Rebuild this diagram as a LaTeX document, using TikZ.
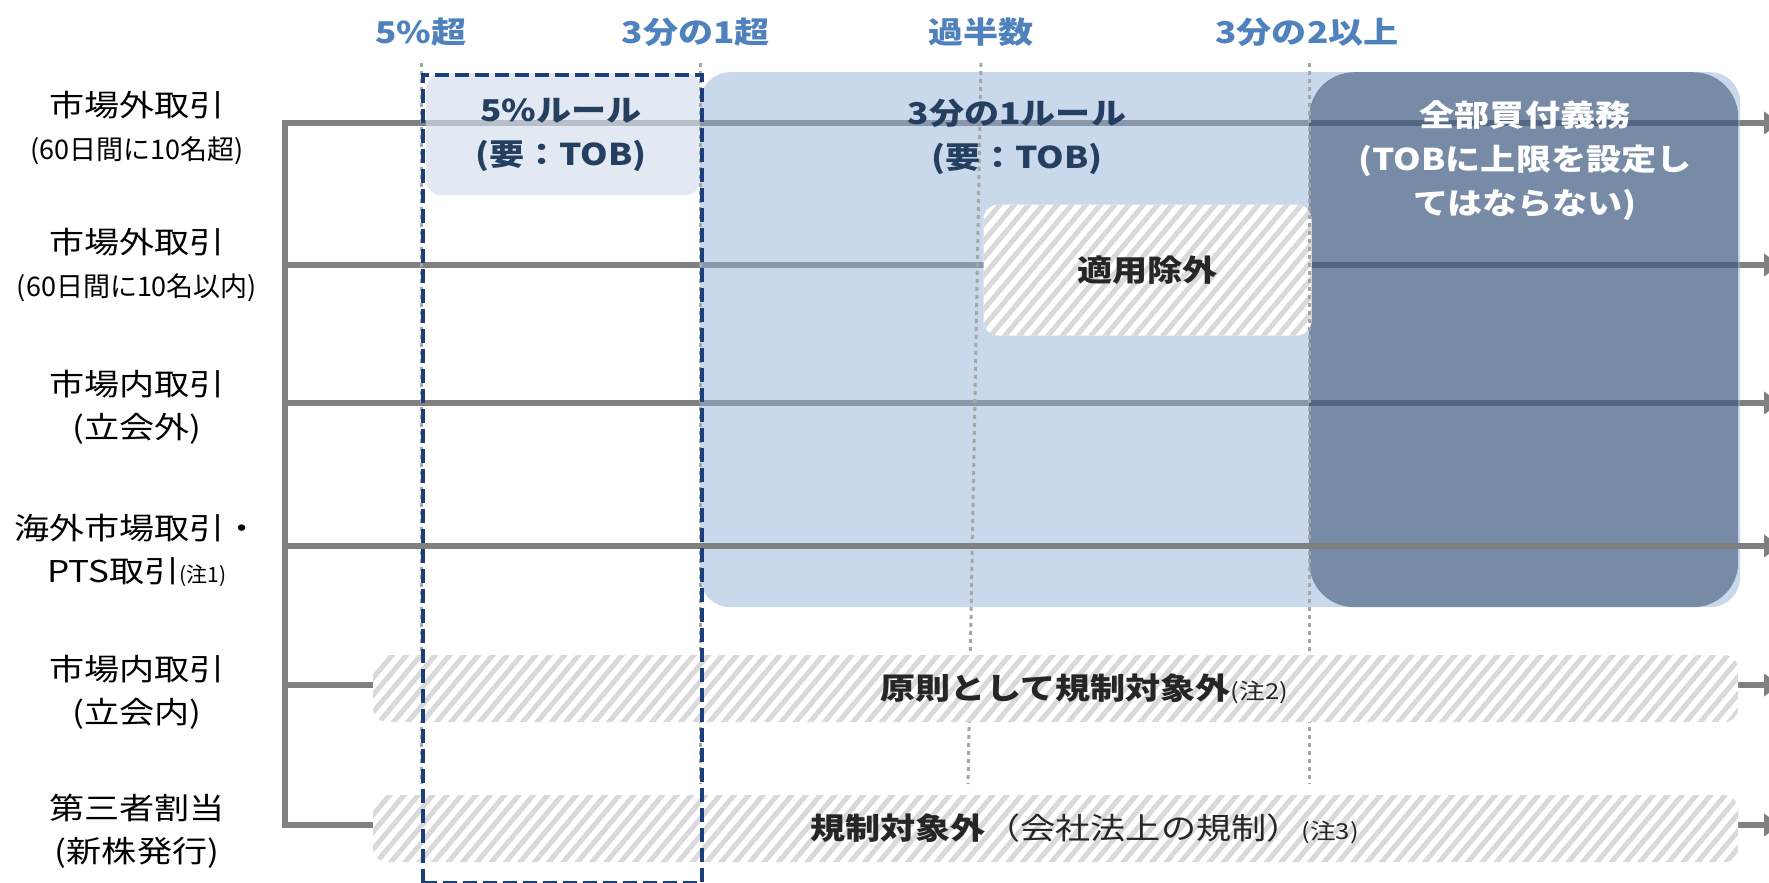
\documentclass[tikz,border=0pt]{standalone}
\usepackage{fontspec}
\setmainfont{Noto Sans CJK JP}
\newfontfamily\jp[FakeStretch=1.17]{Noto Sans CJK JP}
\newfontfamily\jpn{Noto Sans CJK JP}
\usetikzlibrary{arrows.meta,patterns.meta}
\definecolor{hdrblue}{HTML}{4F81BD}
\definecolor{navytxt}{HTML}{243F60}
\definecolor{lineg}{HTML}{808080}
\definecolor{dotg}{HTML}{A6A6A6}
\definecolor{dashblue}{HTML}{1C3F7C}
\definecolor{lightfill}{HTML}{93B1D7}
\definecolor{palefill}{HTML}{D4DEED}
\definecolor{darkfill}{HTML}{132D54}
\definecolor{hatchg}{HTML}{D9D9D9}
\definecolor{txtdark}{HTML}{262626}
\begin{document}
\begin{tikzpicture}[x=1pt,y=-1pt,
  rowline/.style={draw=lineg,line width=5.5pt,-{Triangle[length=16pt,width=22pt]}},
  bracket/.style={draw=lineg,line width=5.5pt,line cap=rect},
  area/.style={rectangle,inner sep=0pt,anchor=north west},
  hatch/.style={area,preaction={fill=white},pattern={Lines[angle=50,distance=11pt,line width=5pt]},pattern color=hatchg},
  guide/.style={draw=dotg,line width=3pt,dash pattern=on 4pt off 4pt},
  hdr/.style={font=\jp\bfseries\fontsize{30}{34}\selectfont,text=hdrblue},
  lab/.style={align=center,font=\jp\fontsize{30}{43}\selectfont,text=black},
  boxtxt/.style={align=center,font=\jp\bfseries\fontsize{30}{44}\selectfont},
  bartxt/.style={font=\jp\fontsize{30}{34}\selectfont,text=txtdark},
]
\useasboundingbox (0,0) rectangle (1769,883);

% row anchors
\coordinate (r1) at (285,123);
\coordinate (r2) at (285,265);
\coordinate (r3) at (285,403);
\coordinate (r4) at (285,546);
\coordinate (r5) at (285,685);
\coordinate (r6) at (285,825);
\coordinate (e1) at (1780,123);
\coordinate (e2) at (1780,265);
\coordinate (e3) at (1780,403);
\coordinate (e4) at (1780,546);
\coordinate (e5) at (1780,685);
\coordinate (e6) at (1780,825);

\draw[bracket] (r1) -- (r6);
\draw[rowline] (r1) -- (e1);
\draw[rowline] (r2) -- (e2);
\draw[rowline] (r3) -- (e3);
\draw[rowline] (r5) -- (e5);
\draw[rowline] (r6) -- (e6);

% areas
\node[area,fill=lightfill,fill opacity=0.5,rounded corners=30pt,minimum width=1040pt,minimum height=535pt] (third) at (700,72) {};
\node[area,fill=palefill,fill opacity=0.67,rounded corners=15pt,minimum width=274pt,minimum height=122pt] (five) at (426,73) {};
\node[area,fill=darkfill,fill opacity=0.45,rounded corners=45pt,minimum width=429pt,minimum height=535pt] (all) at (1309,72) {};
\node[hatch,rounded corners=15pt,minimum width=328pt,minimum height=131pt] (exempt) at (981,202) {};

% guide lines
\coordinate (g1t) at (421,63); \coordinate (g1b) at (421,784);
\coordinate (g2t) at (700,63); \coordinate (g2b) at (700,784);
\coordinate (g3t) at (981,63); \coordinate (g3b) at (968,784);
\coordinate (g4t) at (1309,63); \coordinate (g4b) at (1309,784);
\draw[guide] (g1t) -- (g1b);
\draw[guide] (g2t) -- (g2b);
\draw[guide] (g3t) -- (g3b);
\draw[guide] (g4t) -- (g4b);

\draw[rowline] (r4) -- (e4);

% bars
\node[hatch,rounded corners=14pt,minimum width=1365pt,minimum height=67pt] (bar1) at (373,655) {};
\node[hatch,rounded corners=14pt,minimum width=1365pt,minimum height=67pt] (bar2) at (373,795) {};

% dashed 5% column
\node[area,draw=dashblue,line width=4pt,dash pattern=on 14pt off 6pt,minimum width=279pt,minimum height=808pt] (dash5) at (421,73) {};

% headers
\node[hdr] (h1) at (421,32) {5\%超};
\node[hdr] (h2) at (696,32) {3分の1超};
\node[hdr] (h3) at (981,32) {過半数};
\node[hdr] (h4) at (1307,32) {3分の2以上};

% box texts
\node[boxtxt,text=navytxt] (t5) at (561,135) {5\%ルール\\(要：TOB)};
\node[boxtxt,text=navytxt] (t3) at (1017,137) {3分の1ルール\\(要：TOB)};
\node[boxtxt,text=white] (tall) at (1525,161) {全部買付義務\\(TOBに上限を設定し\\てはならない)};
\node[boxtxt,text=txtdark] (texempt) at (exempt.center) {適用除外};
\node[bartxt] (tbar1) at (bar1.center) {\bfseries 原則として規制対象外\rlap{\mdseries\fontsize{22}{25}\selectfont (注2)}};
\node[bartxt] (tbar2) at (bar2.center) {{\bfseries 規制対象外}（会社法上の規制）\rlap{\fontsize{22}{25}\selectfont (注3)}};

% row labels
\node[lab] (l1) at (137,128) {市場外取引\\{\jpn\fontsize{27}{43}\selectfont (60日間に10名超)}};
\node[lab] (l2) at (137,265) {市場外取引\\{\jpn\fontsize{27}{43}\selectfont (60日間に10名以内)}};
\node[lab] (l3) at (137,407) {市場内取引\\(立会外)};
\node[lab] (l4) at (137,550) {海外市場取引・\\PTS取引{\jpn\fontsize{21}{43}\selectfont (注1)}};
\node[lab] (l5) at (137,692) {市場内取引\\(立会内)};
\node[lab] (l6) at (137,831) {第三者割当\\(新株発行)};
\end{tikzpicture}
\end{document}
